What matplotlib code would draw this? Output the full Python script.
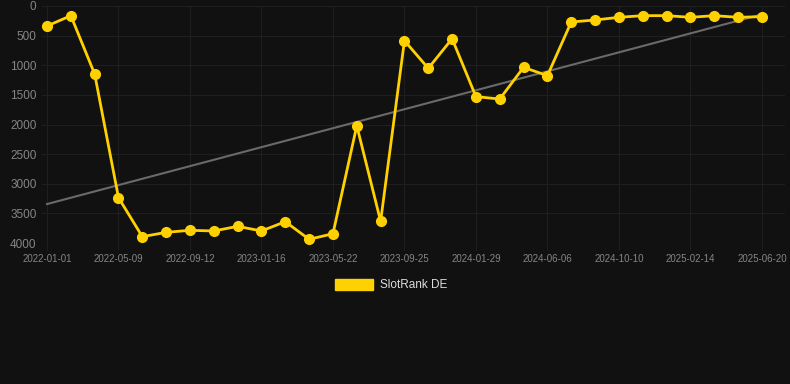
import numpy as np
import matplotlib.pyplot as plt
from matplotlib.patches import Patch

# Rank history (lower is better), one point roughly every 6 weeks
ranks = [338, 163, 1148, 3235, 3893, 3820, 3786, 3797, 3719, 3797,
         3640, 3938, 3843, 2020, 3634, 585, 1052, 552, 1530, 1570,
         1035, 1176, 270, 236, 191, 163, 163, 191, 163, 191, 180]
tick_labels = ['2022-01-01', '2022-05-09', '2022-09-12', '2023-01-16',
               '2023-05-22', '2023-09-25', '2024-01-29', '2024-06-06',
               '2024-10-10', '2025-02-14', '2025-06-20']
y_ticks = [0, 500, 1000, 1500, 2000, 2500, 3000, 3500, 4000]

BG = '#111111'
YELLOW = '#FFD100'

x = np.arange(len(ranks))
coef = np.polyfit(x, ranks, 1)
trend = np.polyval(coef, x)

fig = plt.figure(figsize=(7.9, 3.84), dpi=100, facecolor=BG)
ax = fig.add_axes([42 / 790, (384 - 243) / 384, (785 - 42) / 790, 237 / 384])
ax.set_facecolor(BG)

ax.plot(x, trend, color='#6a6a6a', lw=1.5, zorder=2)
ax.plot(x, ranks, color=YELLOW, lw=2, marker='o', markersize=7,
        clip_on=False, zorder=3)

ax.set_xlim(-0.21, 30.97)
ax.set_ylim(4000, 0)
ax.set_yticks(y_ticks)
ax.set_xticks(x[::3])
ax.set_xticklabels(tick_labels)

for s in ax.spines.values():
    s.set_visible(False)
ax.grid(True, color='#1f1f1f', lw=0.8)
ax.set_axisbelow(True)
ax.tick_params(axis='y', colors='#858585', labelsize=8.5, length=0, pad=4)
ax.tick_params(axis='x', colors='#858585', labelsize=7, length=5, pad=3,
               color='#1f1f1f')
for lab in ax.get_xticklabels() + ax.get_yticklabels():
    lab.set_family('Liberation Sans')

fig.legend(handles=[Patch(facecolor=YELLOW, edgecolor=YELLOW)],
           labels=['SlotRank DE'], loc='center',
           bbox_to_anchor=(391 / 790, 1 - 285 / 384), frameon=False,
           handlelength=3.2, handleheight=1.1, handletextpad=0.6,
           prop={'family': 'Liberation Sans', 'size': 8.5},
           labelcolor='#dddddd')

fig.savefig('out.png', dpi=100, facecolor=BG)
